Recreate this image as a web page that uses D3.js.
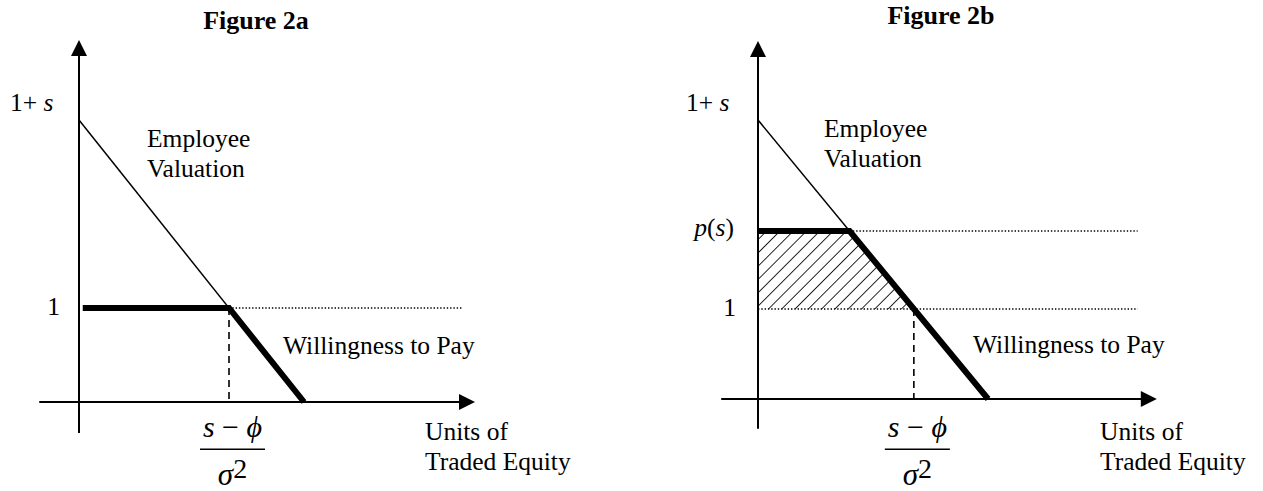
<!DOCTYPE html>
<html><head><meta charset="utf-8">
<script src="https://cdn.jsdelivr.net/npm/d3@7"></script>
<style>
html,body{margin:0;padding:0;background:#fff;}
svg{display:block;font-family:"Liberation Serif","Times New Roman",serif;}
</style></head>
<body><svg id="c" width="1263" height="491"></svg>
<script>
// ---------- data (model units: x = units of traded equity, y = price) ----------
const titles       = ["Figure 2a", "Figure 2b"];
const evStart      = [3, 3];          // 1 + s : intercept of Employee Valuation
const evZeroX      = [3, 3];          // where Employee Valuation reaches zero
const oneLevel     = [1, 0.968];      // level "1"
const priceLevel   = [null, 1.806];   // p(s) (panel b only)
const wtpStartX    = [0.05, 0];       // start of thick Willingness-to-Pay segment
const xAxisExtent  = [[-0.53, 5.28], [-0.48, 5.2]];
const yAxisExtent  = [[-0.33, 3.85], [-0.32, 3.85]];
const dottedEndX   = [5.1, 4.95];
const evLabel      = ["Employee", "Valuation"];
const wtpLabel     = "Willingness to Pay";
const xAxisLabel   = ["Units of", "Traded Equity"];

// ---------- layout ----------
const layout = [
  {x0: 79,  xu: 75,   y0: 402, yu: 94, titleX: 256, titleY: 29, evLab: [147, 147], evY: 146.7,
   wtpX: 283, wtpY: 354, unitsX: 425, topLabX: 10, oneLabX: 60},
  {x0: 758, xu: 76.7, y0: 399, yu: 93, titleX: 941, titleY: 24, evLab: [824, 824], evY: 137.3,
   wtpX: 973, wtpY: 353, unitsX: 1100, topLabX: 686, oneLabX: 736}
];

const svg = d3.select("#c");
const defs = svg.append("defs");
defs.append("pattern").attr("id", "hatch").attr("patternUnits", "userSpaceOnUse")
  .attr("width", 9.4).attr("height", 9.4).attr("patternTransform", "rotate(45)")
  .append("line").attr("x1", 0).attr("y1", 0).attr("x2", 0).attr("y2", 9.4)
  .attr("stroke", "#000").attr("stroke-width", 1.7);

const LF = 25.5;

function evAtY(i, yv) { // x on the Employee Valuation line at level yv
  return evZeroX[i] * (1 - yv / evStart[i]);
}

titles.forEach((t, i) => {
  const L = layout[i];
  const x = d3.scaleLinear().domain([0, 1]).range([L.x0, L.x0 + L.xu]);
  const y = d3.scaleLinear().domain([0, 1]).range([L.y0, L.y0 - L.yu]);
  const g = svg.append("g");
  const line = d3.line().x(d => x(d[0])).y(d => y(d[1]));

  // title
  g.append("text").attr("x", L.titleX).attr("y", L.titleY).attr("text-anchor", "middle")
    .attr("font-weight", "bold").attr("font-size", 26).text(t);

  // hatch area (panel b)
  if (priceLevel[i] != null) {
    const p = priceLevel[i], o = oneLevel[i];
    g.append("path").attr("d", line([[0, p], [evAtY(i, p), p], [evAtY(i, o), o], [0, o]]) + "Z")
      .attr("fill", "url(#hatch)").attr("stroke", "none");
  }

  // axes
  const [xa0, xa1] = xAxisExtent[i], [ya0, ya1] = yAxisExtent[i];
  g.append("line").attr("x1", x(xa0)).attr("x2", x(xa1) - 14).attr("y1", y(0)).attr("y2", y(0))
    .attr("stroke", "#000").attr("stroke-width", 2);
  g.append("path").attr("d", `M${x(xa1)},${y(0)} L${x(xa1) - 16},${y(0) - 8} L${x(xa1) - 16},${y(0) + 8} Z`)
    .attr("fill", "#000");
  g.append("line").attr("x1", x(0)).attr("x2", x(0)).attr("y1", y(ya0)).attr("y2", y(ya1) + 14)
    .attr("stroke", "#000").attr("stroke-width", 2);
  g.append("path").attr("d", `M${x(0)},${y(ya1)} L${x(0) - 8},${y(ya1) + 16} L${x(0) + 8},${y(ya1) + 16} Z`)
    .attr("fill", "#000");

  // dotted guide lines
  const kink = evAtY(i, oneLevel[i]);
  const dot = (x1, x2, yv) => g.append("line").attr("x1", x(x1)).attr("x2", x(x2))
    .attr("y1", y(yv)).attr("y2", y(yv)).attr("stroke", "#000").attr("stroke-width", 1.4)
    .attr("stroke-dasharray", "1.4,1.9");
  if (priceLevel[i] != null) {
    dot(evAtY(i, priceLevel[i]), dottedEndX[i], priceLevel[i]);
    dot(0, dottedEndX[i], oneLevel[i]);
  } else {
    dot(kink, dottedEndX[i], oneLevel[i]);
  }

  // dashed vertical at kink
  g.append("line").attr("x1", x(kink)).attr("x2", x(kink)).attr("y1", y(oneLevel[i])).attr("y2", y(0))
    .attr("stroke", "#000").attr("stroke-width", 1.6).attr("stroke-dasharray", "7,5");

  // Employee Valuation (thin)
  g.append("path").attr("d", line([[0, evStart[i]], [evZeroX[i], 0]]))
    .attr("fill", "none").attr("stroke", "#000").attr("stroke-width", 1.5);

  // Willingness to Pay (thick)
  const lvl = priceLevel[i] != null ? priceLevel[i] : oneLevel[i];
  g.append("path").attr("d", line([[wtpStartX[i], lvl], [evAtY(i, lvl), lvl], [evZeroX[i], 0]]))
    .attr("fill", "none").attr("stroke", "#000").attr("stroke-width", 6)
    .attr("stroke-linejoin", "miter").attr("stroke-linecap", "butt");

  // labels
  const tl = g.append("text").attr("x", L.topLabX).attr("y", y(evStart[i]) - 9.5).attr("font-size", LF);
  tl.append("tspan").text("1+ ");
  tl.append("tspan").attr("font-style", "italic").text("s");

  g.append("text").attr("x", L.oneLabX).attr("y", y(oneLevel[i]) + 7).attr("text-anchor", "end")
    .attr("font-size", LF).text("1");

  if (priceLevel[i] != null) {
    const pl = g.append("text").attr("x", L.oneLabX - 2).attr("y", y(priceLevel[i]) + 4.5)
      .attr("text-anchor", "end").attr("font-size", LF);
    pl.append("tspan").attr("font-style", "italic").text("p");
    pl.append("tspan").text("(");
    pl.append("tspan").attr("font-style", "italic").text("s");
    pl.append("tspan").text(")");
  }

  evLabel.forEach((s, k) => g.append("text").attr("x", L.evLab[k]).attr("y", L.evY + k * 30)
    .attr("font-size", LF).text(s));
  g.append("text").attr("x", L.wtpX).attr("y", L.wtpY).attr("font-size", LF).text(wtpLabel);
  xAxisLabel.forEach((s, k) => g.append("text").attr("x", L.unitsX).attr("y", 440 + k * 29.5)
    .attr("font-size", LF).text(s));

  // fraction (s - phi) / sigma^2 under the kink
  const fx = x(kink) + 3.5;
  const num = g.append("text").attr("x", fx).attr("y", 437).attr("text-anchor", "middle")
    .attr("font-size", 30).attr("font-family", "'Liberation Serif','DejaVu Serif',serif");
  num.append("tspan").attr("font-style", "italic").text("s");
  num.append("tspan").text(" \u2212 ");
  num.append("tspan").attr("font-style", "italic").text("\u03D5");
  g.append("line").attr("x1", fx - 32.5).attr("x2", fx + 32.5).attr("y1", 449.3).attr("y2", 449.3)
    .attr("stroke", "#000").attr("stroke-width", 1.5);
  const den = g.append("text").attr("x", fx).attr("y", 485).attr("text-anchor", "middle")
    .attr("font-size", 31);
  den.append("tspan").attr("font-style", "italic").text("\u03C3");
  den.append("tspan").attr("font-size", 28).attr("dy", -7).text("2");
});
</script>
</body></html>
